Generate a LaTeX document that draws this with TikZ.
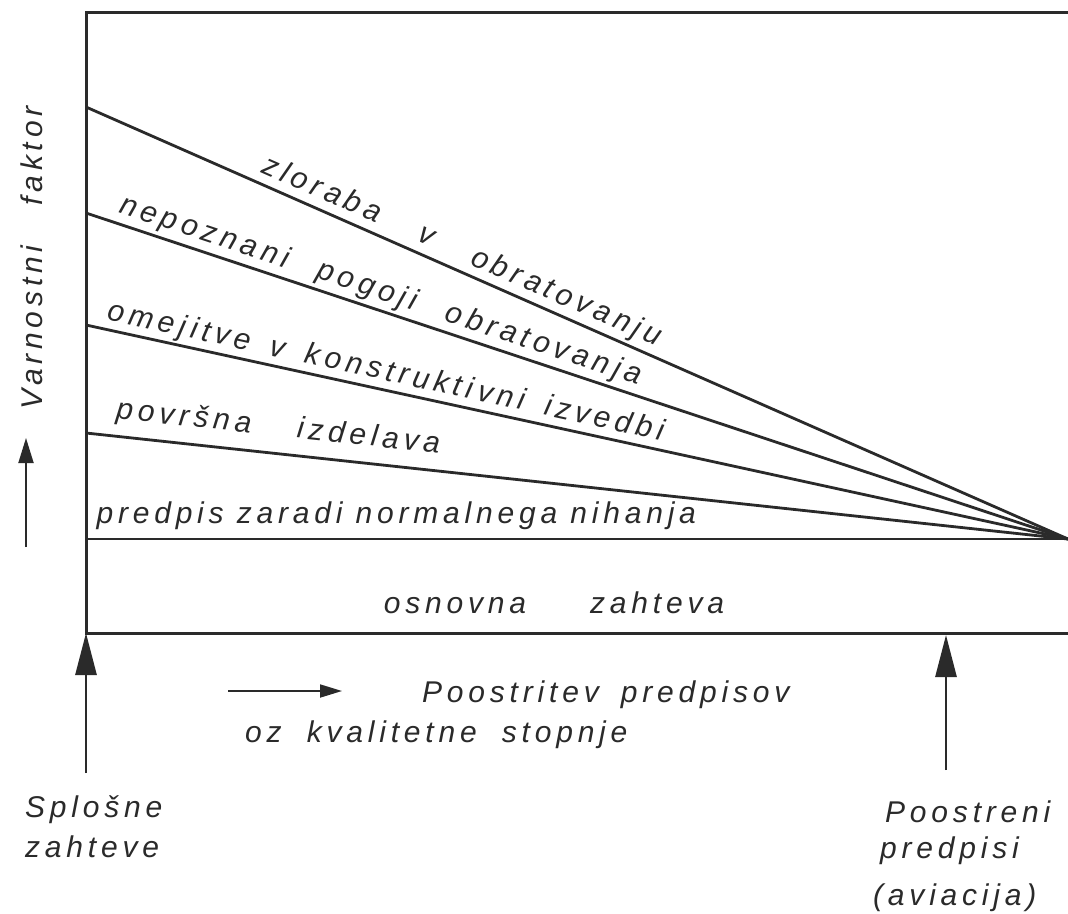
\documentclass[tikz,border=0pt]{standalone}
\usepackage{fontspec}
\setmainfont{Liberation Sans}
\newfontfamily\lett[LetterSpace=16]{Liberation Sans}
\usetikzlibrary{arrows.meta}
\definecolor{ink}{HTML}{2A2A2A}
\newcommand{\wsp}[1]{\hspace{#1em}}
\tikzset{
  ln/.style={draw=ink, line width=2.8pt},
  frame/.style={draw=ink, line width=3pt},
  lbl/.style={font=\lett\itshape\fontsize{30}{36}\selectfont, text=ink, inner sep=0pt},
  bigarrow/.style={draw=ink, line width=2.8pt, -{Triangle[length=42pt,width=21pt]}},
  smallarrow/.style={draw=ink, line width=1.8pt, -{Triangle[length=22pt,width=13pt]}}
}
\begin{document}
\begin{tikzpicture}[x=1pt,y=-1pt]
\useasboundingbox[fill=white] (0,0) rectangle (1068,913);
% key points
\coordinate (TL) at (86,12);
\coordinate (TR) at (1068,12);
\coordinate (P)  at (1068,539);
\coordinate (A1) at (86,107);
\coordinate (A2) at (86,213);
\coordinate (A3) at (86,325);
\coordinate (A4) at (86,433);
\coordinate (A5) at (86,539);
\coordinate (B0) at (86,633);
\coordinate (BR) at (1068,633);
\coordinate (L0) at (86,773);
\coordinate (R0) at (946,770);
\coordinate (R1) at (946,635);
\coordinate (H0) at (228,691);
\coordinate (H1) at (342,691);
\coordinate (V0) at (26,547);
\coordinate (V1) at (26,438);
% frame
\draw[frame] (TR) -- (TL) -- (B0) -- (BR);
% fan lines with labels
\draw[ln] (A1) -- node[lbl, sloped, pos=.375, above=3pt] (t1) {zloraba\wsp{1} v\wsp{1} obratovanju} (P);
\draw[ln] (A2) -- node[lbl, sloped, pos=.294, above=3pt] (t2) {nepoznani\wsp{.6} pogoji\wsp{.6} obratovanja} (P);
\draw[ln] (A3) -- node[lbl, sloped, pos=.302, above=2pt] (t3) {omejitve\wsp{.25} v\wsp{.25} konstruktivni\wsp{.25} izvedbi} (P);
\draw[ln] (A4) -- node[lbl, sloped, pos=.193, above=10pt] (t4) {površna\wsp{1.1} izdelava} (P);
\draw[ln] (A5) -- node[lbl, pos=.316, above=8pt] (t5) {predpis zaradi normalnega nihanja} (P);
% bottom band label
\node[lbl, anchor=base] (t6) at (554,613) {osnovna\wsp{1.7} zahteva};
% arrows
\draw[bigarrow] (L0) -- (B0);
\draw[bigarrow] (R0) -- (R1);
\draw[smallarrow] (H0) -- (H1);
\draw[smallarrow, -{Triangle[length=25pt,width=15pt]}] (V0) -- (V1);
% axis label
\node[lbl, anchor=base, rotate=90] (ax) at (42,258) {Varnostni\wsp{.9} faktor};
% bottom texts
\node[lbl, anchor=base west] (b1) at (422,702) {Poostritev\wsp{.3} predpisov};
\node[lbl, anchor=base west] (b2) at (245,742) {oz\wsp{.4} kvalitetne\wsp{.4} stopnje};
\node[lbl, anchor=base west] (s1) at (25,817) {Splošne};
\node[lbl, anchor=base west] (s2) at (25,857) {zahteve};
\node[lbl, anchor=base west] (p1) at (885,822) {Poostreni};
\node[lbl, anchor=base west] (p2) at (880,858) {predpisi};
\node[lbl, anchor=base west] (p3) at (873,905) {(aviacija)};
\end{tikzpicture}
\end{document}
